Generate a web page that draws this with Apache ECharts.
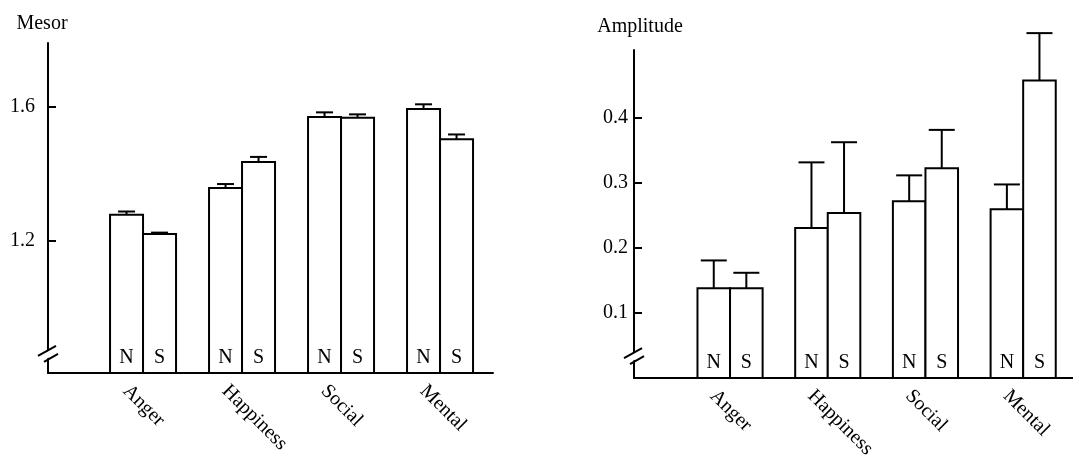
<!DOCTYPE html>
<html>
<head>
<meta charset="utf-8">
<script src="https://cdn.jsdelivr.net/npm/echarts@6/dist/echarts.min.js"></script>
<style>
html,body{margin:0;padding:0;background:#fff;}
#chart{width:1073px;height:462px;}
</style>
</head>
<body>
<div id="chart"></div>
<script>
// ---- data ----
const categories = ['Anger', 'Happiness', 'Social', 'Mental'];
const groupLabels = ['N', 'S'];
const mesorN = [1.278, 1.358, 1.570, 1.594];
const mesorNErr = [0.010, 0.012, 0.014, 0.014];
const mesorS = [1.221, 1.436, 1.568, 1.504];
const mesorSErr = [0.004, 0.015, 0.010, 0.014];
const ampN = [0.138, 0.231, 0.272, 0.260];
const ampNErr = [0.043, 0.101, 0.040, 0.038];
const ampS = [0.138, 0.254, 0.323, 0.458];
const ampSErr = [0.024, 0.109, 0.059, 0.073];
const mesorTicks = [1.2, 1.6];
const ampTicks = [0.1, 0.2, 0.3, 0.4];

const FONT = '"Liberation Serif", "DejaVu Serif", serif';
const chart = echarts.init(document.getElementById('chart'));

const yMins = [0.806, 0];
const barW = 1 / 3;

function pairData(vals, errs) {
  return vals.map((v, i) => [i + 1, v, errs[i]]);
}

function barSeries(gridIdx, groupIdx, vals, errs, capW) {
  const yMin = yMins[gridIdx];
  const offset = groupIdx === 0 ? -barW : 0;
  return {
    type: 'custom',
    xAxisIndex: gridIdx,
    yAxisIndex: gridIdx,
    clip: false,
    data: pairData(vals, errs),
    encode: { x: 0, y: 1 },
    renderItem: function (params, api) {
      const x = api.value(0), v = api.value(1), e = api.value(2);
      const tl = api.coord([x + offset, v]);
      const br = api.coord([x + offset + barW, yMin]);
      const cx = (tl[0] + br[0]) / 2;
      const errTop = api.coord([x, v + e])[1];
      const ls = { stroke: '#000', lineWidth: 2 };
      return {
        type: 'group',
        children: [
          { type: 'rect', shape: { x: tl[0], y: tl[1], width: br[0] - tl[0], height: br[1] - tl[1] },
            style: { fill: '#fff', stroke: '#000', lineWidth: 2 } },
          { type: 'line', shape: { x1: cx, y1: tl[1], x2: cx, y2: errTop }, style: ls },
          { type: 'line', shape: { x1: cx - capW / 2, y1: errTop, x2: cx + capW / 2, y2: errTop }, style: ls },
          { type: 'text', x: cx, y: br[1] - 5,
            style: { text: groupLabels[groupIdx], font: '20px ' + FONT, fill: '#000',
                     textAlign: 'center', textVerticalAlign: 'bottom' } }
        ]
      };
    }
  };
}

function labelSeries(gridIdx) {
  const yMin = yMins[gridIdx];
  return {
    type: 'custom',
    xAxisIndex: gridIdx,
    yAxisIndex: gridIdx,
    clip: false,
    silent: true,
    data: categories.map((c, i) => [i + 1, yMin]),
    encode: { x: 0, y: 1 },
    renderItem: function (params, api) {
      const p = api.coord([api.value(0), yMin]);
      return {
        type: 'text', x: p[0] - 17, y: p[1] + 15, rotation: -Math.PI / 4,
        style: { text: categories[params.dataIndex], font: '20px ' + FONT, fill: '#000',
                 textAlign: 'left', textVerticalAlign: 'middle' }
      };
    }
  };
}

function yAxisCfg(gridIdx, name, min, max, ticks, margin, namePad) {
  return {
    type: 'value', gridIndex: gridIdx, min: min, max: max,
    name: name, nameLocation: 'end', nameGap: gridIdx === 0 ? 9 : 13,
    nameTextStyle: { fontFamily: FONT, fontSize: 20, color: '#000', padding: namePad },
    axisLine: { show: true, lineStyle: { color: '#000', width: 2 } },
    axisTick: { show: true, inside: true, length: 8, customValues: ticks, lineStyle: { color: '#000', width: 2 } },
    axisLabel: { customValues: ticks, formatter: v => v.toFixed(1), fontFamily: FONT, fontSize: 20, color: '#000', margin: margin },
    splitLine: { show: false }
  };
}

function xAxisCfg(gridIdx, min, max) {
  return {
    type: 'value', gridIndex: gridIdx, min: min, max: max,
    axisLine: { show: true, onZero: false, lineStyle: { color: '#000', width: 2 } },
    axisTick: { show: false }, axisLabel: { show: false }, splitLine: { show: false }
  };
}

chart.setOption({
  animation: false,
  backgroundColor: '#fff',
  grid: [
    { left: 48, top: 43, width: 445, height: 330 },
    { left: 634, top: 50, width: 439, height: 328 }
  ],
  xAxis: [xAxisCfg(0, 0.04, 4.535), xAxisCfg(1, 0.017, 4.51)],
  yAxis: [
    yAxisCfg(0, 'Mesor', 0.806, 1.791, mesorTicks, 13, [0, 12, 0, 0]),
    yAxisCfg(1, 'Amplitude', 0, 0.505, ampTicks, 6, [0, 0, 0, 12])
  ],
  series: [
    barSeries(0, 0, mesorN, mesorNErr, 17),
    barSeries(0, 1, mesorS, mesorSErr, 17),
    barSeries(1, 0, ampN, ampNErr, 26),
    barSeries(1, 1, ampS, ampSErr, 26),
    labelSeries(0),
    labelSeries(1)
  ]
});

// axis break marks, positioned from the axes themselves
function breakMark(gridIdx, value) {
  const p = chart.convertToPixel({ xAxisIndex: gridIdx, yAxisIndex: gridIdx }, [gridIdx === 0 ? 0.04 : 0.017, value]);
  const ax = p[0], cy = p[1];
  const ls = { stroke: '#000', lineWidth: 2 };
  return [
    { type: 'polygon', z: 100, shape: { points: [[ax - 9, cy + 1], [ax + 9, cy - 9], [ax + 9, cy - 2], [ax - 9, cy + 8]] },
      style: { fill: '#fff', stroke: null } },
    { type: 'line', z: 101, shape: { x1: ax - 10, y1: cy + 1, x2: ax + 8, y2: cy - 9 }, style: ls },
    { type: 'line', z: 101, shape: { x1: ax - 4, y1: cy + 7, x2: ax + 10, y2: cy - 1 }, style: ls }
  ];
}
chart.setOption({ graphic: breakMark(0, 0.86).concat(breakMark(1, 0.032)) });
</script>
</body>
</html>
